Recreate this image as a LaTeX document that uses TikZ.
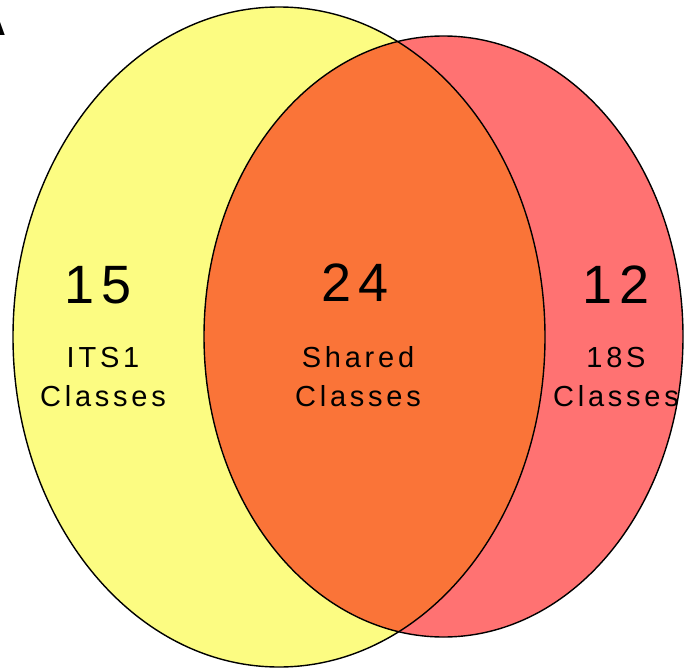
\documentclass[tikz,border=0pt]{standalone}
\usepackage{fontspec}
\setmainfont{Liberation Sans}
\newfontfamily\numfont[LetterSpace=14]{Liberation Sans}
\newfontfamily\labfont[LetterSpace=13]{Liberation Sans}
\definecolor{vyellow}{RGB}{252,252,130}
\definecolor{vred}{RGB}{255,114,114}
\definecolor{vorange}{RGB}{250,116,56}
\tikzset{
  setline/.style={draw=black, line width=1.4pt},
  numtxt/.style={inner sep=0pt, font=\numfont\fontsize{54}{60}\selectfont},
  labtxt/.style={inner sep=0pt, align=center, font=\labfont\fontsize{29}{39}\selectfont},
}
\begin{document}
\begin{tikzpicture}[x=1pt,y=-1pt]
\useasboundingbox (0,0) rectangle (685,669);
\fill[white] (0,0) rectangle (685,669);
% fills
\fill[vyellow] (279,337) ellipse [x radius=266, y radius=330];
\fill[vred] (443.5,336.5) ellipse [x radius=239.5, y radius=300.5];
\begin{scope}
  \clip (279,337) ellipse [x radius=266, y radius=330];
  \fill[vorange] (443.5,336.5) ellipse [x radius=239.5, y radius=300.5];
\end{scope}
% outlines
\draw[setline] (279,337) ellipse [x radius=266, y radius=330];
\draw[setline] (443.5,336.5) ellipse [x radius=239.5, y radius=300.5];
% partial panel letter
\begin{scope}
  \clip (0,0) rectangle (8,34.5);
  \node[anchor=north west, inner sep=0pt, font=\bfseries\fontsize{40}{40}\selectfont] (panelA) at (-17.5,22) {A};
\end{scope}
% texts
\node[numtxt] (n15) at (98,285) {15};
\node[labtxt] (l15) at (103,377) {I\kern4pt TS1\\Classes};
\node[numtxt] (n24) at (355,283) {24};
\node[labtxt] (l24) at (358,377) {Shared\\Classes};
\node[numtxt] (n12) at (616,285) {12};
\node[labtxt] (l12) at (616,377) {18S\\Classes};
\end{tikzpicture}
\end{document}
